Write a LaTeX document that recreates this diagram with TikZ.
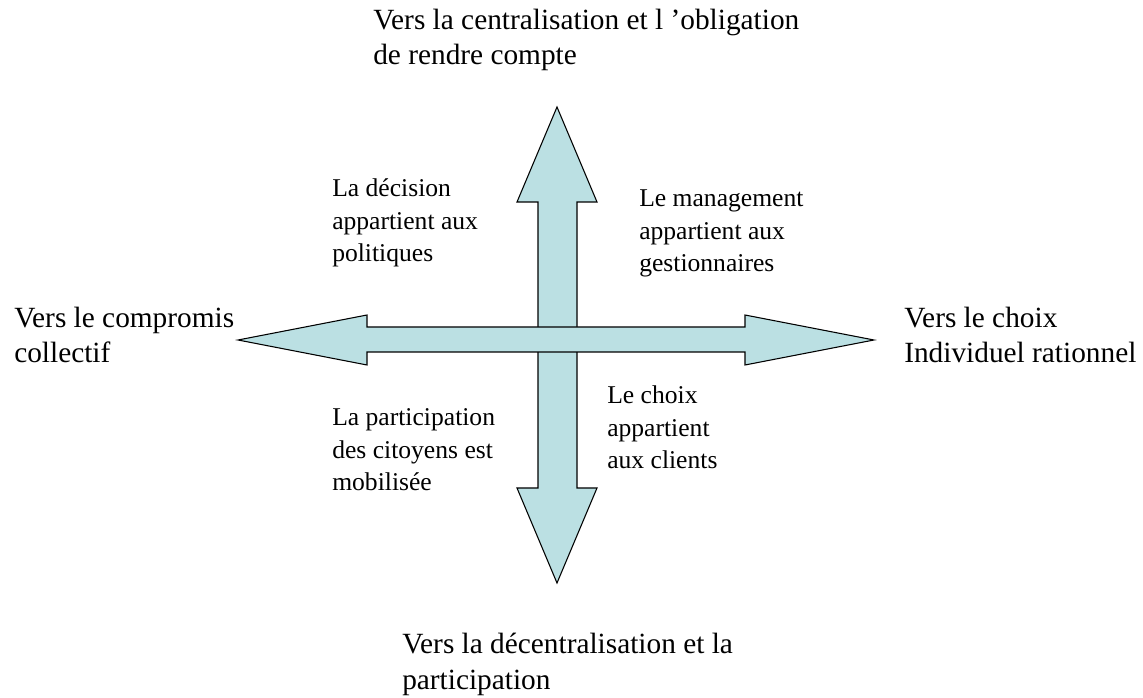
\documentclass[tikz,border=0pt]{standalone}
\usepackage{fontspec}
\setmainfont{Liberation Serif}
\definecolor{arrowfill}{RGB}{187,224,227}
\tikzset{
    bigarrow/.style = {draw=black, line width=0.8pt, fill=arrowfill, line join=miter},
    biglabel/.style = {anchor=base west, align=left, inner sep=0pt, font=\fontsize{22}{26.5}\selectfont},
    smalllabel/.style = {anchor=base west, align=left, inner sep=0pt, font=\fontsize{19.2}{24.4}\selectfont}
}
\begin{document}
\begin{tikzpicture}[x=0.75pt, y=-0.75pt]
  \useasboundingbox (0,0) rectangle (1143,698);

  % vertical arrow (drawn first, under the horizontal one)
  \draw[bigarrow] (557,107) -- (597,202) -- (577,202) -- (577,488) -- (597,488) -- (557,583)
    -- (517,488) -- (538,488) -- (538,202) -- (517,202) -- cycle;
  % horizontal arrow
  \draw[bigarrow] (238,340) -- (367,315) -- (367,327) -- (745,327) -- (745,315) -- (874,340)
    -- (745,365) -- (745,352) -- (367,352) -- (367,365) -- cycle;

  % labels, placed by the baseline of their last line
  \node[biglabel] (top)    at (373,65)  {Vers la centralisation et l ’obligation\\de rendre compte};
  \node[biglabel] (bottom) at (402,689) {Vers la décentralisation et la\\participation};
  \node[biglabel] (left)   at (14,363)  {Vers le compromis\\collectif};
  \node[biglabel] (right)  at (904,363) {Vers le choix\\Individuel rationnel};

  \node[smalllabel] (decision)      at (332,262) {La décision\\appartient aux\\politiques};
  \node[smalllabel] (management)    at (639,272) {Le management\\appartient aux\\gestionnaires};
  \node[smalllabel] (participation) at (332,491) {La participation\\des citoyens est\\mobilisée};
  \node[smalllabel] (clients)       at (607,469) {Le choix\\appartient\\aux clients};
\end{tikzpicture}
\end{document}
